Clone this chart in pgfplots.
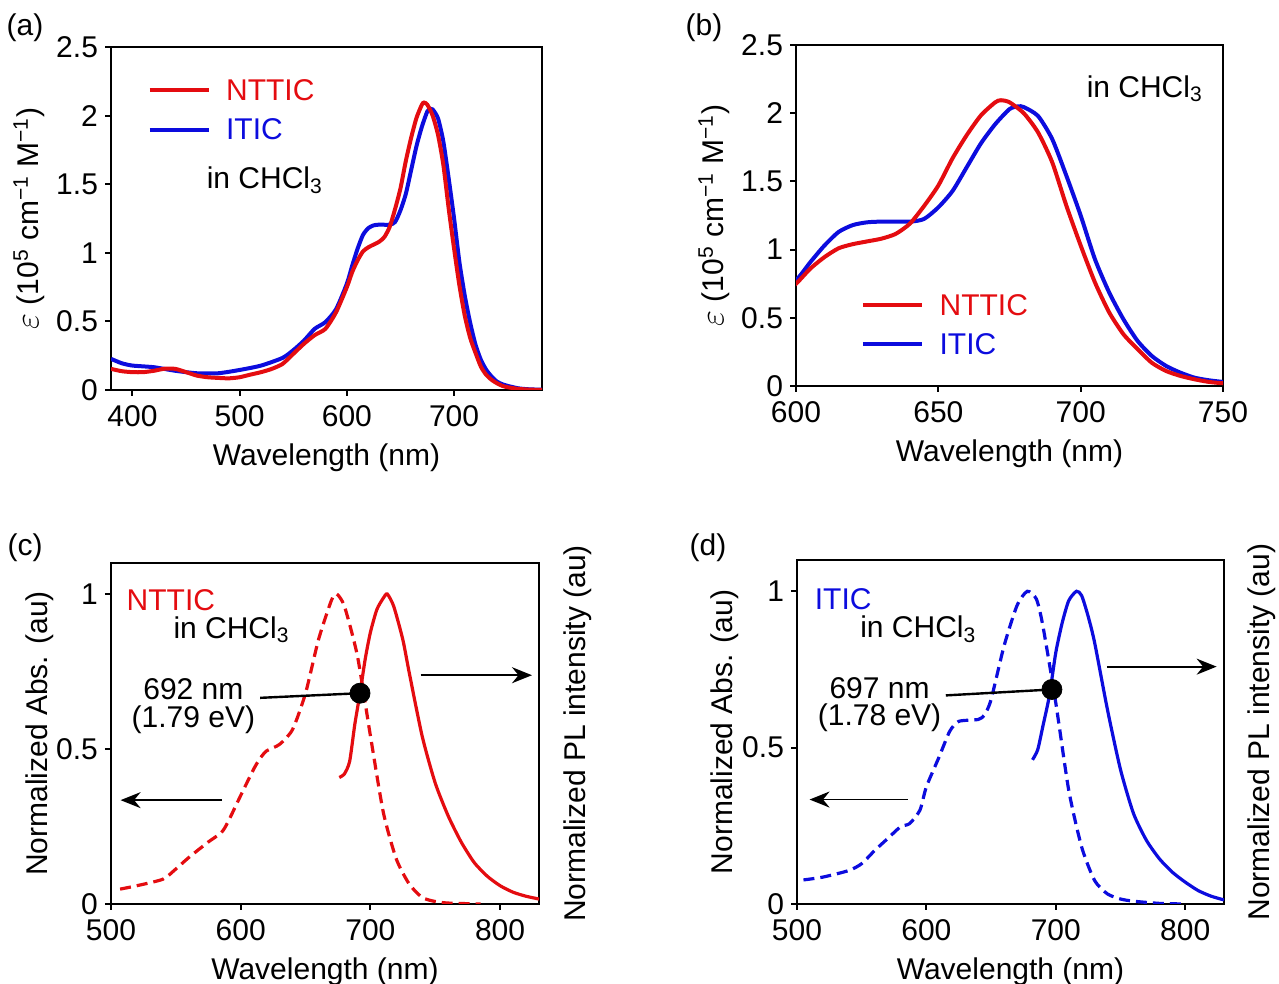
\documentclass[border=0pt]{standalone}
\usepackage{pgfplots}
\pgfplotsset{compat=1.18}
\usepackage{fontspec}
\setmainfont{Liberation Sans}
\usetikzlibrary{arrows.meta}
\definecolor{myred}{RGB}{228,12,16}
\definecolor{myblue}{RGB}{12,12,222}
\pgfplotsset{
  panel/.style={
    scale only axis,
    axis line style={line width=1pt},
    every tick/.style={line width=1pt, black},
    tick align=outside,
    major tick length=3pt,
    xtick pos=bottom, ytick pos=left,
    /pgf/number format/assume math mode=true,
    font=\fontsize{15}{18}\selectfont,
    every tick label/.append style={font=\fontsize{15}{18}\selectfont},
    label style={font=\fontsize{15}{18}\selectfont},
    xticklabel style={yshift=-1pt},
    xlabel={Wavelength (nm)},
    xlabel style={yshift=-2pt},
    clip mode=individual,
  },
  curve/.style={line width=2pt, smooth, tension=0.4},
  curvethin/.style={line width=1.6pt, smooth, tension=0.4},
}
% ---- data ----
\pgfplotstableread{
x y
380 0.227
390 0.195
400 0.178
420 0.166
440 0.140
460 0.122
480 0.122
500 0.146
520 0.178
540 0.234
550 0.290
560 0.360
570 0.446
580 0.495
590 0.590
600 0.775
605 0.907
610 1.030
615 1.130
620 1.180
625 1.200
630 1.205
640 1.205
645 1.225
650 1.310
655 1.430
660 1.605
665 1.780
670 1.920
675 2.030
678 2.050
680 2.045
685 1.980
690 1.810
695 1.540
700 1.250
705 0.930
710 0.686
715 0.490
720 0.330
725 0.220
730 0.147
735 0.098
740 0.061
745 0.042
750 0.030
760 0.012
770 0.005
782 0.002
}\itic
\pgfplotstableread{
x y
380 0.154
390 0.137
400 0.130
410 0.130
420 0.140
430 0.155
440 0.154
450 0.130
460 0.105
470 0.093
480 0.088
490 0.085
500 0.093
510 0.112
520 0.130
530 0.154
540 0.190
550 0.263
560 0.337
570 0.400
580 0.446
590 0.568
600 0.750
605 0.860
610 0.945
615 1.010
620 1.040
625 1.060
630 1.080
635 1.115
640 1.190
645 1.320
650 1.470
655 1.670
660 1.840
665 1.985
670 2.080
672 2.095
675 2.080
680 2.000
685 1.860
690 1.640
695 1.320
700 1.030
705 0.760
710 0.540
715 0.380
720 0.270
725 0.170
730 0.110
735 0.074
740 0.049
745 0.030
750 0.020
760 0.008
770 0.003
782 0.000
}\nttic
\pgfplotstableread{
x y
507 0.048
520 0.059
540 0.080
550 0.113
560 0.150
575 0.200
585 0.230
590 0.263
600 0.350
610 0.435
615 0.470
620 0.494
630 0.515
640 0.563
650 0.680
660 0.853
670 0.980
674 1.000
680 0.960
690 0.800
700 0.543
710 0.295
720 0.145
730 0.064
740 0.021
750 0.008
760 0.003
785 0.000
}\nttabs
\pgfplotstableread{
x y
676 0.408
680 0.420
684 0.460
688 0.580
692 0.680
696 0.790
700 0.876
705 0.950
710 0.987
713 1.000
718 0.960
725 0.853
730 0.745
740 0.540
750 0.390
760 0.284
770 0.200
780 0.134
790 0.090
800 0.059
810 0.038
820 0.025
830 0.016
}\nttpl
\pgfplotstableread{
x y
505 0.077
520 0.086
540 0.107
550 0.129
560 0.171
570 0.209
580 0.247
587 0.257
595 0.300
600 0.375
610 0.472
618 0.552
625 0.584
640 0.590
645 0.605
650 0.654
660 0.825
670 0.954
678 1.000
685 0.975
690 0.890
700 0.643
710 0.364
720 0.182
730 0.075
740 0.032
750 0.016
760 0.009
780 0.002
800 0.000
}\iticabs
\pgfplotstableread{
x y
682 0.461
686 0.493
690 0.568
695 0.665
700 0.804
705 0.900
710 0.970
716 1.000
720 0.986
725 0.920
730 0.836
740 0.620
750 0.430
760 0.290
770 0.204
780 0.145
790 0.102
800 0.070
810 0.043
820 0.025
830 0.013
}\iticpl
\begin{document}
\begin{tikzpicture}[font=\fontsize{15}{18}\selectfont]
\useasboundingbox (0,0) rectangle (639.5pt,492pt);
\node at (12.5pt,478pt) {(a)};
\node at (352pt,478pt) {(b)};
\node at (12.5pt,218pt) {(c)};
\node at (354pt,218pt) {(d)};
% ---------- (a) ----------
\begin{axis}[panel, at={(55.5pt,297pt)}, anchor=south west,
  width=215.5pt, height=171.5pt,
  xmin=380, xmax=782, ymin=0, ymax=2.5,
  xtick={400,500,600,700}, ytick={0,0.5,1,1.5,2,2.5},
  yticklabels={0,0.5,1,1.5,2,2.5},
  ylabel={{\fontsize{18}{18}\selectfont$\varepsilon$} (10\textsuperscript{5} cm\textsuperscript{−1} M\textsuperscript{−1})},
  ylabel style={yshift=-1pt}]
\addplot[curve, myblue] table {\itic};
\addplot[curve, myred] table {\nttic};
\draw[line width=2pt, myred] (axis cs:416,2.185) -- (axis cs:471,2.185);
\draw[line width=2pt, myblue] (axis cs:416,1.898) -- (axis cs:471,1.898);
\node[anchor=west, text=myred, inner sep=0pt] at (axis cs:487,2.185) {NTTIC};
\node[anchor=west, text=myblue, inner sep=0pt] at (axis cs:487,1.898) {ITIC};
\node[anchor=west, inner sep=0pt] at (axis cs:469,1.53) {in CHCl\textsubscript{3}};
\end{axis}
% ---------- (b) ----------
\begin{axis}[panel, at={(398pt,299pt)}, anchor=south west,
  width=213.5pt, height=170.5pt,
  xmin=600, xmax=750, ymin=0, ymax=2.5,
  xtick={600,650,700,750}, ytick={0,0.5,1,1.5,2,2.5},
  yticklabels={0,0.5,1,1.5,2,2.5},
  ylabel={{\fontsize{18}{18}\selectfont$\varepsilon$} (10\textsuperscript{5} cm\textsuperscript{−1} M\textsuperscript{−1})},
  ylabel style={yshift=-1pt}]
\addplot[curve, myblue] table {\itic};
\addplot[curve, myred] table {\nttic};
\draw[line width=2pt, myred] (axis cs:623.5,0.593) -- (axis cs:644.3,0.593);
\draw[line width=2pt, myblue] (axis cs:623.5,0.306) -- (axis cs:644.3,0.306);
\node[anchor=west, text=myred, inner sep=0pt] at (axis cs:650.3,0.593) {NTTIC};
\node[anchor=west, text=myblue, inner sep=0pt] at (axis cs:650.3,0.306) {ITIC};
\node[anchor=west, inner sep=0pt] at (axis cs:702,2.18) {in CHCl\textsubscript{3}};
\end{axis}
% ---------- (c) ----------
\begin{axis}[panel, at={(55.5pt,40pt)}, anchor=south west,
  width=214pt, height=170.5pt,
  xmin=500, xmax=830, ymin=0, ymax=1.1,
  xtick={500,600,700,800}, ytick={0,0.5,1},
  yticklabels={0,0.5,1},
  xlabel style={yshift=0pt},
  ylabel={Normalized Abs. (au)},
  ylabel style={yshift=-5.5pt}]
\addplot[curvethin, myred, dash pattern=on 5.5pt off 3pt] table {\nttabs};
\addplot[curvethin, myred] table {\nttpl};
\draw[line width=1.2pt] (axis cs:615,0.665) -- (axis cs:692,0.68);
\addplot[only marks, mark=*, mark size=5pt, black] coordinates {(692,0.68)};
\node[inner sep=0pt] at (axis cs:563.5,0.692) {692 nm};
\node[inner sep=0pt] at (axis cs:563.5,0.595) {(1.79 eV)};
\draw[line width=0.9pt, -{Stealth[length=10pt,width=8pt]}] (axis cs:585.7,0.335) -- (axis cs:507.4,0.335);
\draw[line width=0.9pt, -{Stealth[length=10pt,width=8pt]}] (axis cs:738.8,0.738) -- (axis cs:824.6,0.738);
\node[anchor=west, text=myred, inner sep=0pt] at (axis cs:511.8,0.98) {NTTIC};
\node[anchor=west, inner sep=0pt] at (axis cs:547.9,0.885) {in CHCl\textsubscript{3}};
\node[rotate=90] at (rel axis cs:1.091,0.5) {Normalized PL intensity (au)};
\end{axis}
% ---------- (d) ----------
\begin{axis}[panel, at={(398.5pt,40pt)}, anchor=south west,
  width=213.5pt, height=172pt,
  xmin=500, xmax=830, ymin=0, ymax=1.1,
  xtick={500,600,700,800}, ytick={0,0.5,1},
  yticklabels={0,0.5,1},
  xlabel style={yshift=0pt},
  ylabel={Normalized Abs. (au)},
  ylabel style={yshift=-5pt}]
\addplot[curvethin, myblue, dash pattern=on 5.5pt off 3pt] table {\iticabs};
\addplot[curvethin, myblue] table {\iticpl};
\draw[line width=1.2pt] (axis cs:615,0.667) -- (axis cs:697,0.686);
\addplot[only marks, mark=*, mark size=5pt, black] coordinates {(697,0.686)};
\node[inner sep=0pt] at (axis cs:563.8,0.691) {697 nm};
\node[inner sep=0pt] at (axis cs:563.8,0.595) {(1.78 eV)};
\draw[line width=0.9pt, -{Stealth[length=10pt,width=8pt]}] (axis cs:585.7,0.334) -- (axis cs:509.7,0.334);
\draw[line width=0.9pt, -{Stealth[length=10pt,width=8pt]}] (axis cs:739.4,0.759) -- (axis cs:824.3,0.759);
\node[anchor=west, text=myblue, inner sep=0pt] at (axis cs:513.5,0.975) {ITIC};
\node[anchor=west, inner sep=0pt] at (axis cs:548.6,0.879) {in CHCl\textsubscript{3}};
\node[rotate=90] at (rel axis cs:1.089,0.5) {Normalized PL intensity (au)};
\end{axis}
\end{tikzpicture}
\end{document}
